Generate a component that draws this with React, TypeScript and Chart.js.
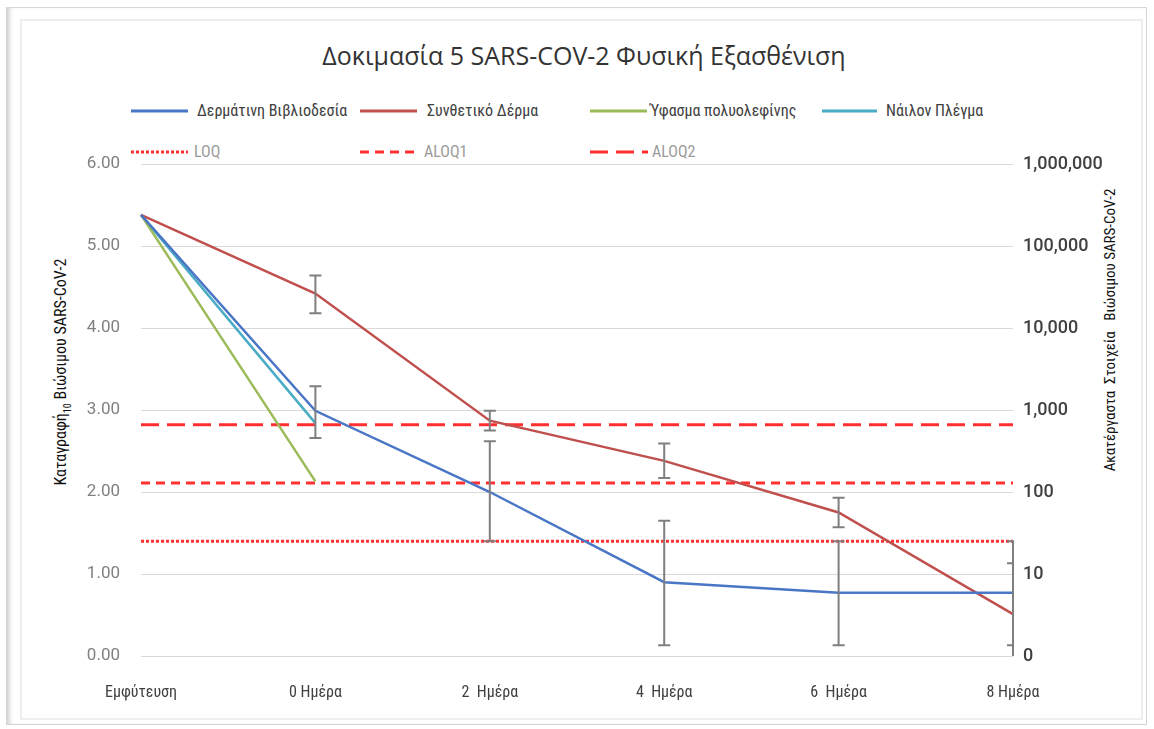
import React, { useEffect, useRef } from "react";
import { Chart, registerables } from "chart.js";

Chart.register(...registerables);

const categories = ["Εμφύτευση", "0 Ημέρα", "2  Ημέρα", "4  Ημέρα", "6  Ημέρα", "8 Ημέρα"];

const leather = [5.38, 2.99, 2.0, 0.9, 0.77, 0.77];
const leatherErrLow = [null, 2.66, 1.4, 0.13, 0.13, 0.13];
const leatherErrHigh = [null, 3.29, 2.62, 1.65, 1.4, 1.4];

const synthetic = [5.38, 4.42, 2.87, 2.38, 1.75, 0.51];
const syntheticErrLow = [null, 4.18, 2.75, 2.17, 1.57, -0.11];
const syntheticErrHigh = [null, 4.64, 2.99, 2.59, 1.93, 1.13];

const polyolefin = [5.38, 2.13, null, null, null, null];
const nylon = [5.38, 2.84, null, null, null, null];

const loq = [1.4, 1.4, 1.4, 1.4, 1.4, 1.4];
const aloq1 = [2.11, 2.11, 2.11, 2.11, 2.11, 2.11];
const aloq2 = [2.82, 2.82, 2.82, 2.82, 2.82, 2.82];

const rightTickLabels = ["0", "10", "100", "1,000", "10,000", "100,000", "1,000,000"];

const seriesNames = ["Δερμάτινη Βιβλιοδεσία", "Συνθετικό Δέρμα", "Ύφασμα πολυολεφίνης", "Νάιλον Πλέγμα"];
const refNames = ["LOQ", "ALOQ1", "ALOQ2"];

const BLUE = "#4A76C6";
const RED = "#C0504D";
const GREEN = "#9BBB59";
const CYAN = "#4BACC6";
const REF = "#FF3030";

const NARROW = "'Liberation Sans Narrow', 'Arial Narrow', 'Roboto Condensed', Roboto, sans-serif";

const errorBarPlugin = {
  id: "errorBars",
  afterDatasetsDraw(chart: any) {
    const { ctx, chartArea } = chart;
    const x = chart.scales.x;
    const y = chart.scales.y;
    ctx.save();
    ctx.beginPath();
    ctx.rect(chartArea.left - 10, chartArea.top - 10, chartArea.right - chartArea.left + 11, chartArea.bottom - chartArea.top + 10);
    ctx.clip();
    ctx.strokeStyle = "#7F7F7F";
    ctx.lineWidth = 2;
    const sets = [
      [leatherErrLow, leatherErrHigh],
      [syntheticErrLow, syntheticErrHigh],
    ];
    for (const [low, high] of sets) {
      for (let i = 0; i < low.length; i++) {
        const lo = low[i];
        const hi = high[i];
        if (lo == null || hi == null) continue;
        const px = x.getPixelForValue(i);
        const yl = y.getPixelForValue(lo);
        const yh = y.getPixelForValue(hi);
        ctx.beginPath();
        ctx.moveTo(px, yl);
        ctx.lineTo(px, yh);
        ctx.moveTo(px - 6, yl);
        ctx.lineTo(px + 6, yl);
        ctx.moveTo(px - 6, yh);
        ctx.lineTo(px + 6, yh);
        ctx.stroke();
      }
    }
    ctx.restore();
  },
};

function LegendLine({ color, dash, width }: { color: string; dash?: string; width: number }) {
  return (
    <svg width={width} height={6} style={{ display: "block" }}>
      <line x1={0} y1={3} x2={width} y2={3} stroke={color} strokeWidth={3} strokeDasharray={dash} />
    </svg>
  );
}

const legendItems = [
  { name: seriesNames[0], color: BLUE, dash: undefined, lx: 131, lw: 57, tx: 197, y: 111, tc: "#404040" },
  { name: seriesNames[1], color: RED, dash: undefined, lx: 360, lw: 57, tx: 427, y: 111, tc: "#404040" },
  { name: seriesNames[2], color: GREEN, dash: undefined, lx: 590, lw: 57, tx: 650, y: 111, tc: "#404040" },
  { name: seriesNames[3], color: CYAN, dash: undefined, lx: 822, lw: 55, tx: 886, y: 111, tc: "#404040" },
  { name: refNames[0], color: REF, dash: "3 2", lx: 131, lw: 57, tx: 194, y: 152, tc: "#9A9A9A" },
  { name: refNames[1], color: REF, dash: "9 6", lx: 360, lw: 55, tx: 424, y: 152, tc: "#9A9A9A" },
  { name: refNames[2], color: REF, dash: "18 8", lx: 590, lw: 58, tx: 652, y: 152, tc: "#9A9A9A" },
];

export default function App() {
  const canvasRef = useRef<HTMLCanvasElement | null>(null);

  useEffect(() => {
    if (!canvasRef.current) return;
    const lineDs = (label: string, data: (number | null)[], color: string) => ({
      label,
      data,
      borderColor: color,
      backgroundColor: color,
      borderWidth: 2.5,
      pointRadius: 0,
      tension: 0,
      spanGaps: false,
    });
    const refDs = (label: string, data: number[], dash: number[]) => ({
      label,
      data,
      borderColor: REF,
      backgroundColor: REF,
      borderWidth: 3,
      borderDash: dash,
      pointRadius: 0,
      tension: 0,
    });
    const chart = new Chart(canvasRef.current, {
      type: "line",
      data: {
        labels: categories,
        datasets: [
          lineDs(seriesNames[0], leather, BLUE),
          lineDs(seriesNames[1], synthetic, RED),
          lineDs(seriesNames[2], polyolefin, GREEN),
          lineDs(seriesNames[3], nylon, CYAN),
          refDs(refNames[0], loq, [3, 2]),
          refDs(refNames[1], aloq1, [9, 6]),
          refDs(refNames[2], aloq2, [18, 8]),
        ] as any,
      },
      options: {
        animation: false,
        responsive: false,
        devicePixelRatio: 1,
        layout: { padding: { left: 0, right: 0, top: 164, bottom: 0 } },
        plugins: {
          legend: { display: false },
          title: { display: false },
          tooltip: { enabled: false },
        },
        scales: {
          x: {
            type: "category",
            offset: false,
            grid: { display: false },
            border: { display: false },
            ticks: {
              color: "#404040",
              font: { family: NARROW, size: 16 },
              padding: 19,
              maxRotation: 0,
              autoSkip: false,
            },
            afterFit: (s: any) => {
              s.height = 73;
            },
          },
          y: {
            type: "linear",
            position: "left",
            min: 0,
            max: 6,
            grid: { color: "#D9D9D9", lineWidth: 1, drawTicks: false },
            border: { display: false },
            ticks: {
              stepSize: 1,
              color: "#808080",
              font: { family: "Roboto, sans-serif", size: 17 },
              padding: 21,
              callback: (v: any) => Number(v).toFixed(2),
            },
            afterFit: (s: any) => {
              s.width = 141;
            },
          },
          y2: {
            type: "linear",
            position: "right",
            min: 0,
            max: 6,
            grid: { display: false, drawTicks: false },
            border: { display: false },
            ticks: {
              stepSize: 1,
              color: "#404040",
              font: { family: "Roboto, sans-serif", size: 18, weight: 500 },
              padding: 10,
              callback: (v: any) => rightTickLabels[Math.round(Number(v))] ?? "",
            },
            afterFit: (s: any) => {
              s.width = 141;
            },
          },
        },
      } as any,
      plugins: [errorBarPlugin],
    });
    return () => chart.destroy();
  }, []);

  return (
    <div style={{ position: "absolute", left: 0, top: 0, width: 1154, height: 729, background: "#fff", overflow: "hidden" }}>
      <div
        style={{
          position: "absolute",
          left: 6,
          top: 7,
          width: 1141,
          height: 718,
          border: "1px solid #D6D6D6",
          boxShadow: "inset 5px 0 5px -3px #C8C8C8",
          boxSizing: "border-box",
        }}
      />
      <div
        style={{
          position: "absolute",
          left: 20,
          top: 19,
          width: 1123,
          height: 701,
          border: "2px solid #EEEEEE",
          boxSizing: "border-box",
        }}
      />
      <div
        style={{
          position: "absolute",
          left: 0,
          width: 1154,
          top: 38,
          textAlign: "center",
          paddingLeft: 14,
          boxSizing: "border-box",
          fontFamily: "'Open Sans', sans-serif",
          fontSize: 25,
          color: "#333333",
          whiteSpace: "nowrap",
        }}
      >
        Δοκιμασία 5 SARS-COV-2 Φυσική Εξασθένιση
      </div>
      {legendItems.map((it) => (
        <React.Fragment key={it.name}>
          <div style={{ position: "absolute", left: it.lx, top: it.y - 3 }}>
            <LegendLine color={it.color} dash={it.dash} width={it.lw} />
          </div>
          <div
            style={{
              position: "absolute",
              left: it.tx,
              top: it.y - 10,
              lineHeight: "20px",
              fontFamily: NARROW,
              fontSize: 16,
              color: it.tc,
              whiteSpace: "nowrap",
            }}
          >
            {it.name}
          </div>
        </React.Fragment>
      ))}
      <div
        style={{
          position: "absolute",
          left: 62,
          top: 372,
          transform: "translate(-50%, -50%) rotate(-90deg)",
          fontFamily: NARROW,
          fontSize: 16,
          color: "#111111",
          whiteSpace: "nowrap",
        }}
      >
        Καταγραφή<sub style={{ fontSize: 10 }}>10</sub> Βιώσιμου SARS-CoV-2
      </div>
      <div
        style={{
          position: "absolute",
          left: 1110,
          top: 330,
          transform: "translate(-50%, -50%) rotate(-90deg)",
          fontFamily: NARROW,
          fontSize: 15,
          color: "#111111",
          whiteSpace: "pre",
        }}
      >
        {"Ακατέργαστα  Στοιχεία   Βιώσιμου SARS-CoV-2"}
      </div>
      <canvas ref={canvasRef} width={1154} height={729} style={{ position: "absolute", left: 0, top: 0 }} />
    </div>
  );
}
